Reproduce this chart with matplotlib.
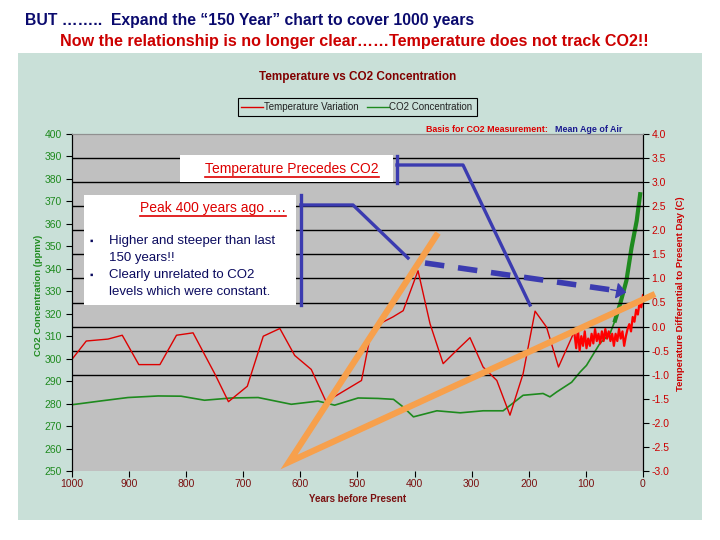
import numpy as np
import matplotlib
matplotlib.use('Agg')
import matplotlib.pyplot as plt
from matplotlib.patches import Rectangle, FancyArrowPatch
from matplotlib.lines import Line2D

plt.rcParams['font.family'] = ['Liberation Sans', 'DejaVu Sans']

# Temperature variation (C vs present day)
t_years = [1000, 975, 937, 912, 883, 846, 817, 788, 750, 726, 693, 665, 636, 610,
           581, 555, 493, 478, 461, 438, 420, 394, 373, 350, 326, 303, 280, 256,
           233, 210, 189, 169, 148, 122]
t_vals = [-0.68, -0.30, -0.26, -0.18, -0.79, -0.79, -0.18, -0.13, -0.98, -1.56,
          -1.24, -0.20, -0.04, -0.60, -0.89, -1.56, -1.12, -0.22, 0.06, 0.20,
          0.33, 1.16, 0.06, -0.77, -0.49, -0.23, -0.84, -1.12, -1.84, -0.98,
          0.32, -0.01, -0.84, -0.15]
# instrumental period (noisy)
t_mod_years = [122, 120, 117, 114, 111, 108, 105, 102, 99, 96, 93, 90, 87, 84, 81,
               78, 75, 72, 69, 66, 63, 60, 57, 54, 51, 48, 45, 42, 39, 36, 33,
               30, 27, 24, 21, 18, 15, 12, 9, 6, 3, 0]
t_mod_vals = [-0.15, -0.15, -0.45, -0.05, -0.50, -0.20, -0.40, -0.10, -0.45, -0.25,
              -0.40, -0.15, -0.35, -0.05, -0.30, -0.15, -0.35, -0.10, -0.30, -0.05,
              -0.25, -0.10, -0.30, -0.15, -0.40, -0.15, -0.30, -0.05, -0.25, -0.10,
              -0.40, -0.20, -0.05, 0.05, -0.10, 0.20, 0.10, 0.35, 0.25, 0.50, 0.40, 0.65]

# CO2 concentration (ppmv)
c_years = [1000, 949, 902, 849, 809, 768, 721, 674, 616, 569, 540, 499, 464, 437,
           420, 402, 361, 320, 280, 245, 210, 175, 163, 151, 125, 110, 99, 75, 58, 49]
c_vals = [279.5, 281.2, 282.7, 283.4, 283.3, 281.5, 282.5, 282.7, 279.7, 281.1,
          279.3, 282.5, 282.3, 281.9, 278.5, 274.1, 276.8, 275.9, 276.8, 276.8,
          283.7, 284.5, 283.0, 285.2, 289.5, 294.1, 297.0, 307.0, 311.0, 317.0]
c_mod_years = [49, 40, 29, 20, 11, 5]
c_mod_vals = [317.0, 324.4, 334.8, 349.5, 361.4, 373.2]

co2_ticks = np.arange(250, 401, 10)
temp_ticks = np.arange(-3.0, 4.01, 0.5)
year_ticks = np.arange(0, 1001, 100)

RED = '#dd0000'
GREEN = '#1e8a1e'
BLUE = '#3b3bb0'
ORANGE = '#f7a04c'
BG = '#c9e0d8'


def px(x, y):
    return (x / 720, 1 - y / 540)


fig = plt.figure(figsize=(7.2, 5.4), dpi=100)
fig.patch.set_facecolor('white')
fig.patches.append(Rectangle(px(18, 520), 684 / 720, 467 / 540, transform=fig.transFigure,
                             facecolor=BG, edgecolor='none', zorder=-10))

ax = fig.add_axes([0.1, 1 - 471 / 540, 571 / 720, 337 / 540])
ax.set_facecolor('#c0c0c0')
ax2 = ax.twinx()

ax.plot(c_years, c_vals, color=GREEN, lw=1.2, label='CO2 Concentration')
ax.plot(c_mod_years, c_mod_vals, color=GREEN, lw=3)
ax.set_xlim(1000, 0)
ax.set_ylim(250, 400)
ax.set_yticks(co2_ticks)
ax.set_xticks(year_ticks)
ax.tick_params(axis='y', labelcolor=GREEN, labelsize=7.5, length=4, color='black')
ax.tick_params(axis='x', labelsize=7.5, labelcolor='#7a1010', length=4, direction='out', pad=2)

ax2.plot(t_years, t_vals, color=RED, lw=1.0, label='Temperature Variation')
ax2.plot(t_mod_years, t_mod_vals, color='#ff0000', lw=1.6)
ax2.set_ylim(-3.0, 4.0)
ax2.set_yticks(temp_ticks)
ax2.set_yticklabels(['%.1f' % v for v in temp_ticks])
ax2.tick_params(axis='y', labelcolor='#cc0000', labelsize=7.5, length=4, color='black', pad=2)
for v in temp_ticks:
    if -1.01 < v < 3.6:
        ax2.axhline(v, color='black', lw=1.0, zorder=0.5)
ax2.set_zorder(ax.get_zorder() + 1)
ax2.patch.set_visible(False)

for a in (ax, ax2):
    a.spines['bottom'].set_visible(False)
    a.spines['top'].set_color('#909090')
    a.spines['left'].set_color('black')
    a.spines['right'].set_color('black')

ax.set_ylabel('CO2 Concentration (ppmv)', color=GREEN, fontsize=6.8, fontweight='bold')
ax.yaxis.set_label_coords(-0.05, 0.52)
ax2.set_ylabel('Temperature Differential to Present Day (C)', color='#cc0000', fontsize=6.8,
               fontweight='bold')
ax2.yaxis.set_label_coords(1.058, 0.525)
ax.set_xlabel('Years before Present', color='#7a1010', fontsize=7, fontweight='bold', labelpad=3)

# headings
fig.text(*px(25, 21), 'BUT ……..  Expand the “150 Year” chart to cover 1000 years',
         color='#0a0a6e', fontsize=11.3, fontweight='bold', va='center')
fig.text(*px(60, 42), 'Now the relationship is no longer clear……Temperature does not track CO2!!',
         color='#cc0000', fontsize=11.6, fontweight='bold', va='center')
fig.text(*px(358, 77), 'Temperature vs CO2 Concentration', color='#800000', fontsize=8.5,
         fontweight='bold', ha='center', va='center')
fig.text(*px(548, 129), 'Basis for CO2 Measurement:', color='#dd0000', fontsize=6.4,
         fontweight='bold', ha='right', va='center')
fig.text(*px(555, 129), 'Mean Age of Air', color='#1a1a90', fontsize=6.4,
         fontweight='bold', ha='left', va='center')

h = [Line2D([], [], color=RED, lw=1), Line2D([], [], color=GREEN, lw=1)]
leg = fig.legend(h, ['Temperature Variation', 'CO2 Concentration'], loc='center',
                 bbox_to_anchor=px(357, 107), ncol=2, fontsize=7, frameon=True,
                 fancybox=False, edgecolor='black', facecolor=BG, framealpha=1,
                 handlelength=2.2, handletextpad=0.1, columnspacing=0.9, borderpad=0.4)
leg.get_frame().set_linewidth(0.8)
for t in leg.get_texts():
    t.set_color('#222222')

# annotation boxes
fig.patches.append(Rectangle(px(180, 182), 213 / 720, 27 / 540, transform=fig.transFigure,
                             facecolor='white', edgecolor='none', zorder=5))
fig.patches.append(Rectangle(px(84, 305), 212 / 720, 110 / 540, transform=fig.transFigure,
                             facecolor='white', edgecolor='none', zorder=5))

renderer = fig.canvas.get_renderer()


def underlined(x, y, s, **kw):
    t = fig.text(*px(x, y), s, zorder=6, **kw)
    bb = t.get_window_extent(renderer=renderer)
    yy = bb.y0 - 1
    fig.add_artist(Line2D([bb.x0 / 720, bb.x1 / 720], [yy / 540, yy / 540], color=kw['color'],
                          lw=1.2, transform=fig.transFigure, zorder=6))


underlined(292, 169, 'Temperature Precedes CO2', color='#dd0000', fontsize=10,
           ha='center', va='center')
underlined(213, 208, 'Peak 400 years ago ….', color='#dd0000', fontsize=10,
           ha='center', va='center')

bul = [('▪', 'Higher and steeper than last', 241), ('', '150 years!!', 258),
       ('▪', 'Clearly unrelated to CO2', 275), ('', 'levels which were constant.', 292)]
for b, s, y in bul:
    if b:
        fig.text(*px(90, y), b, color='#0a0a5e', fontsize=7, va='center', zorder=6)
    fig.text(*px(109, y), s, color='#0a0a5e', fontsize=9.5, va='center', zorder=6)


def fline(pts, **kw):
    xs = [p[0] / 720 for p in pts]
    ys = [1 - p[1] / 540 for p in pts]
    fig.add_artist(Line2D(xs, ys, transform=fig.transFigure, **kw))


# blue brackets
fline([(397, 156), (397, 183)], color=BLUE, lw=2.4, zorder=7)
fline([(397, 165), (463, 165), (530, 305)], color=BLUE, lw=2.4, zorder=7)
fline([(301, 195), (301, 305)], color=BLUE, lw=2.4, zorder=7)
fline([(301, 205), (353, 205), (408, 258)], color=BLUE, lw=2.4, zorder=7)
# dashed arrow
fline([(425, 263), (612, 290)], color=BLUE, lw=4, ls=(0, (3.5, 2.5)), zorder=7)
fig.add_artist(FancyArrowPatch(px(608, 289), px(629, 293), transform=fig.transFigure,
                               arrowstyle='-|>,head_length=6,head_width=5',
                               color=BLUE, lw=1, zorder=7))
# orange trend lines
fline([(438, 233), (289, 462), (655, 294)], color=ORANGE, lw=4.5, zorder=8,
      solid_joinstyle='miter', solid_capstyle='butt')

fig.savefig('out.png', dpi=100)
